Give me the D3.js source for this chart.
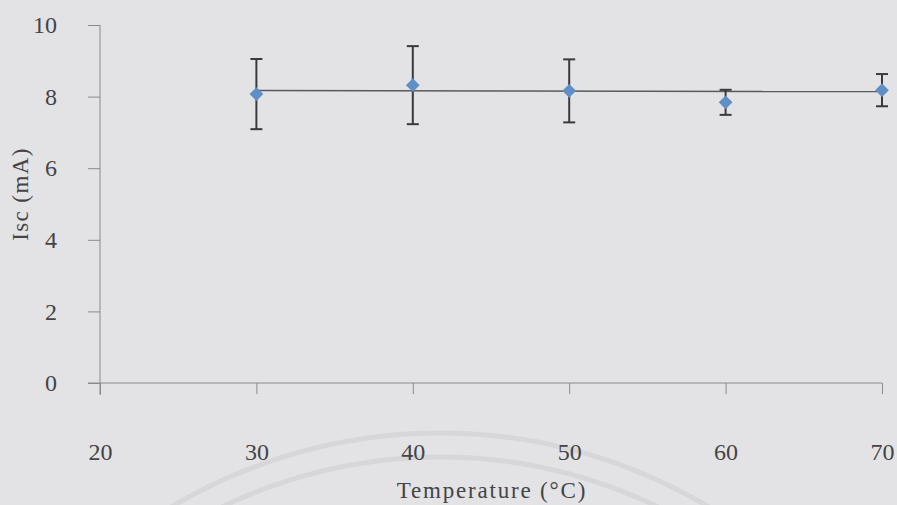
<!DOCTYPE html>
<html><head><meta charset="utf-8">
<script src="https://cdn.jsdelivr.net/npm/d3@7"></script>
<style>body{margin:0;background:#e3e3e5;} svg{display:block;}</style>
</head><body>
<svg id="c" width="897" height="505"></svg>
<script>
const temps = [30, 40, 50, 60, 70];
const isc = [8.07, 8.32, 8.16, 7.84, 8.18];
const errs = [0.98, 1.09, 0.88, 0.35, 0.45];
const trendX = [30, 70];
const trendY = [8.17, 8.14];
const xTicks = [20, 30, 40, 50, 60, 70];
const yTicks = [0, 2, 4, 6, 8, 10];

const svg = d3.select("#c");
const W = 897, H = 505;
svg.append("rect").attr("width", W).attr("height", H).attr("fill", "#e3e3e5");

// faint watermark arcs (scan background)
const wm = svg.append("g").attr("fill", "none").attr("stroke", "#d7d7d9").attr("stroke-width", 5);
[525, 501].forEach(r => wm.append("circle").attr("cx", 440).attr("cy", 958).attr("r", r));

const x = d3.scaleLinear().domain([20, 70]).range([100, 882]);
const y = d3.scaleLinear().domain([0, 10]).range([383, 25]);

const axisColor = "#8a8a8c";
const textColor = "#444446";
const font = '"Liberation Serif", "Times New Roman", Tinos, serif';

// y axis
const ya = svg.append("g").attr("transform", "translate(100,0)")
  .call(d3.axisLeft(y).tickValues(yTicks).tickSize(12).tickPadding(31).tickFormat(d3.format("d")));
ya.select(".domain").attr("stroke", axisColor).attr("d", "M0,25V395");
ya.selectAll(".tick line").attr("stroke", axisColor);
ya.selectAll("text").attr("fill", textColor).style("font-family", font).style("font-size", "24px");

// x axis
const xa = svg.append("g").attr("transform", "translate(0,383)")
  .call(d3.axisBottom(x).tickValues(xTicks).tickSize(11).tickPadding(49).tickFormat(d3.format("d")));
xa.select(".domain").attr("stroke", axisColor).attr("d", "M88,0H882");
xa.selectAll(".tick line").attr("stroke", axisColor);
xa.selectAll("text").attr("fill", textColor).style("font-family", font).style("font-size", "24px");

// trend line
svg.append("line")
  .attr("x1", x(trendX[0])).attr("y1", y(trendY[0]))
  .attr("x2", x(trendX[1])).attr("y2", y(trendY[1]))
  .attr("stroke", "#5a5a5c").attr("stroke-width", 1.5);

// error bars
const eb = svg.append("g").attr("stroke", "#3a3a3c").attr("stroke-width", 2);
temps.forEach((t, i) => {
  const cx = x(t), y1 = y(isc[i] + errs[i]), y2 = y(isc[i] - errs[i]);
  eb.append("line").attr("x1", cx).attr("x2", cx).attr("y1", y1).attr("y2", y2);
  eb.append("line").attr("x1", cx - 6).attr("x2", cx + 6).attr("y1", y1).attr("y2", y1);
  eb.append("line").attr("x1", cx - 6).attr("x2", cx + 6).attr("y1", y2).attr("y2", y2);
});

// markers
svg.append("g").selectAll("path").data(temps).join("path")
  .attr("transform", (d, i) => `translate(${x(d)},${y(isc[i])})`)
  .attr("d", d3.symbol(d3.symbolDiamond2, 120))
  .attr("fill", "#5f8fc4");

// axis titles
svg.append("text").attr("x", 492).attr("y", 498).attr("text-anchor", "middle")
  .attr("fill", textColor).style("font-family", font).style("font-size", "23px")
  .style("letter-spacing", "1.8px")
  .text("Temperature (°C)");
svg.append("text").attr("transform", "translate(28,194) rotate(-90)").attr("text-anchor", "middle")
  .attr("fill", textColor).style("font-family", font).style("font-size", "23px")
  .style("letter-spacing", "1.4px")
  .text("Isc (mA)");
</script>
</body></html>
